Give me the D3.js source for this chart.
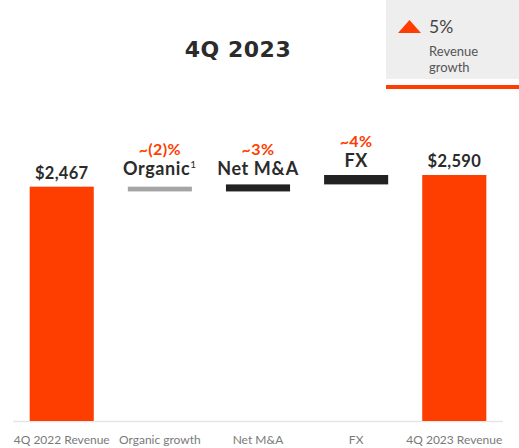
<!DOCTYPE html>
<html><head><meta charset="utf-8">
<script src="https://cdn.jsdelivr.net/npm/d3@7"></script>
<style>body{margin:0;background:#fff}svg{display:block}</style>
</head><body>
<svg id="c" width="519" height="448"></svg>
<script>
const categories = ["4Q 2022 Revenue", "Organic growth", "Net M&A", "FX", "4Q 2023 Revenue"];
const kinds = ["total", "delta", "delta", "delta", "total"];
const values = [2467, -50, 74, 99, 2590];
const driverNames = ["", "Organic", "Net M&A", "FX", ""];
const pctLabels = ["", "~(2)%", "~3%", "~4%", ""];
const valueLabels = ["$2,467", "", "", "", "$2,590"];
const barColors = ["#fe3d00", "#a5a5a5", "#222222", "#222222", "#fe3d00"];
const titleText = "4Q 2023";
const growthValue = "5%";
const growthLabel = ["Revenue", "growth"];

const svg = d3.select("#c");
const font = "Lato, 'Open Sans', sans-serif";
const orange = "#fe3d00";

// compute waterfall
let run = 0;
const bars = categories.map((c, i) => {
  let y0, y1;
  if (kinds[i] === "total") { y0 = 0; y1 = values[i]; run = values[i]; }
  else { y0 = run; y1 = run + values[i]; run = y1; }
  return {c, i, lo: Math.min(y0, y1), hi: Math.max(y0, y1)};
});

const x = d3.scaleBand().domain(categories).range([13, 503]).paddingInner(0.347).paddingOuter(0.17);
const y = d3.scaleLinear().domain([0, 2590]).range([421, 175]);

// axis
const xAxis = svg.append("g").attr("transform", "translate(0,421)")
  .call(d3.axisBottom(x).tickSize(0).tickPadding(14));
xAxis.select(".domain").attr("stroke", "#e6e6e6").attr("stroke-width", 1.5).attr("d", "M13,0.5H503");
xAxis.selectAll("text").attr("font-family", font).attr("font-size", 12).attr("fill", "#7a7a7a");

// bars
svg.append("g").selectAll("rect").data(bars).join("rect")
  .attr("x", d => x(d.c)).attr("width", x.bandwidth())
  .attr("y", d => y(d.hi)).attr("height", d => y(d.lo) - y(d.hi))
  .attr("fill", d => barColors[d.i]);

// value labels for totals
svg.append("g").selectAll("text").data(bars.filter(d => valueLabels[d.i])).join("text")
  .attr("x", d => x(d.c) + x.bandwidth() / 2).attr("y", d => y(d.hi) - 8)
  .attr("text-anchor", "middle").attr("font-family", font).attr("font-weight", 700)
  .attr("font-size", 16.5).attr("letter-spacing", 0.3).attr("fill", "#2b2b2b").text(d => valueLabels[d.i]);

// driver labels
const drv = bars.filter(d => driverNames[d.i]);
const nameOff = {1: 12, 2: 9, 3: 8};
svg.append("g").selectAll("text").data(drv).join("text")
  .attr("x", d => x(d.c) + x.bandwidth() / 2)
  .attr("y", d => y(d.hi) - nameOff[d.i])
  .attr("text-anchor", "middle").attr("font-family", font).attr("font-weight", 700)
  .attr("font-size", 18).attr("letter-spacing", 0.6).attr("fill", "#2b2b2b")
  .each(function(d) {
    const t = d3.select(this);
    t.append("tspan").text(driverNames[d.i]);
    if (d.i === 1) t.append("tspan").attr("font-size", 10).attr("font-weight", 400).attr("dy", -7).text("1");
  });
svg.append("g").selectAll("text").data(drv).join("text")
  .attr("x", d => x(d.c) + x.bandwidth() / 2)
  .attr("y", d => y(d.hi) - nameOff[d.i] - 20)
  .attr("text-anchor", "middle").attr("font-family", font).attr("font-weight", 700)
  .attr("font-size", 16).attr("letter-spacing", 0.4).attr("fill", orange).text(d => pctLabels[d.i]);

// title
svg.append("text").attr("x", 238).attr("y", 57).attr("text-anchor", "middle")
  .attr("font-family", "'DejaVu Sans', sans-serif").attr("font-weight", 700).attr("font-size", 22)
  .attr("letter-spacing", 0.5).attr("fill", "#2b2b2b").text(titleText);

// growth box
svg.append("rect").attr("x", 386).attr("y", 0).attr("width", 133).attr("height", 79).attr("fill", "#eeeeee");
svg.append("rect").attr("x", 386).attr("y", 85).attr("width", 133).attr("height", 4).attr("fill", orange);
svg.append("path").attr("d", "M398,33L409.5,20L421,33Z").attr("fill", orange);
svg.append("text").attr("x", 429).attr("y", 33).attr("font-family", font)
  .attr("font-size", 17.5).attr("fill", "#444").text(growthValue);
svg.append("text").attr("font-family", font).attr("font-size", 13).attr("fill", "#555")
  .selectAll("tspan").data(growthLabel).join("tspan")
  .attr("x", 429).attr("y", (d, i) => 56 + i * 16).text(d => d);
</script>
</body></html>
